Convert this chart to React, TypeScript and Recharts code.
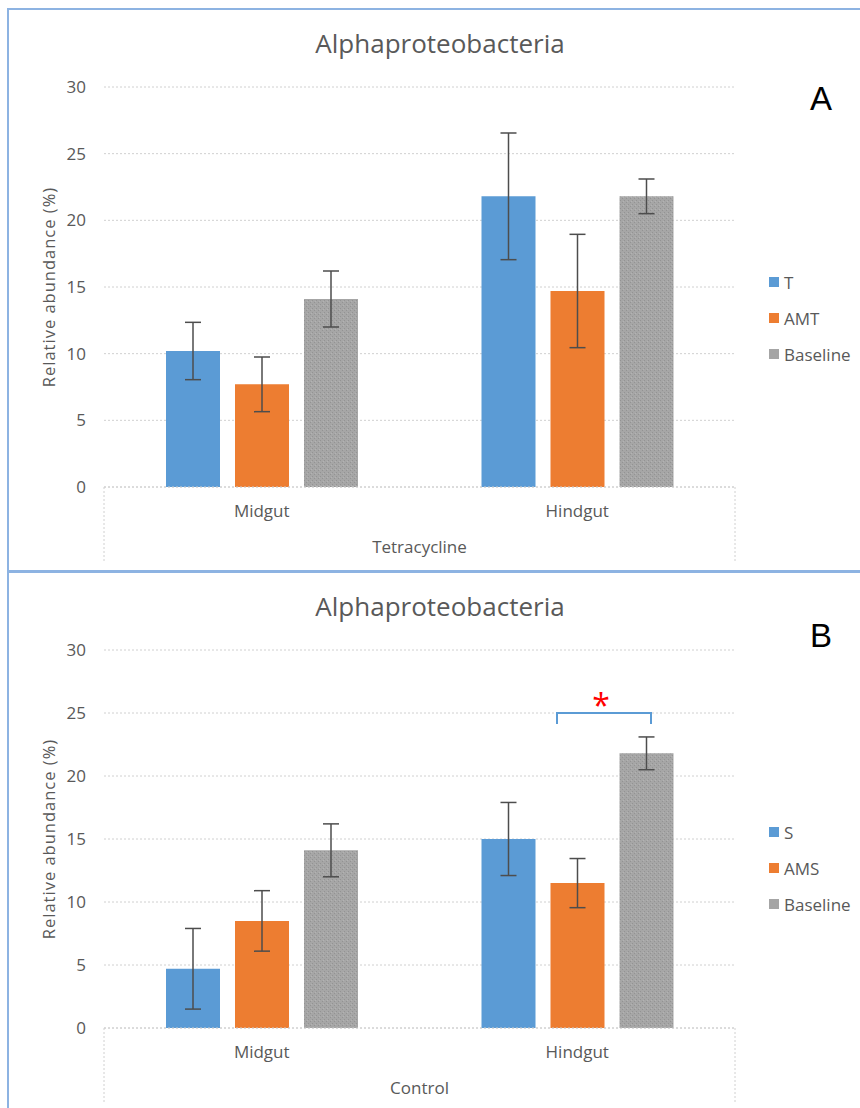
import { BarChart, Bar, XAxis, YAxis, CartesianGrid, ErrorBar, Legend } from "recharts";

// categories and axis ticks
const sites = ["Midgut", "Hindgut"];
const yTicks = [0, 5, 10, 15, 20, 25, 30];

// shared untreated baseline
const baselineMean = [14.1, 21.8];
const baselineErr = [2.1, 1.3];

// tetracycline panel
const tetNames = ["T", "AMT", "Baseline"];
const tetT = [10.2, 21.8];
const tetTErr = [2.15, 4.75];
const tetAMT = [7.7, 14.7];
const tetAMTErr = [2.05, 4.25];

// control panel
const ctlNames = ["S", "AMS", "Baseline"];
const ctlS = [4.7, 15.0];
const ctlSErr = [3.2, 2.9];
const ctlAMS = [8.5, 11.5];
const ctlAMSErr = [2.4, 1.95];

const COLORS = ["#5b9bd5", "#ed7d31", "#a5a5a5"];
const FONT = "'Open Sans', sans-serif";
const TEXT = "#595959";
const GRID = "#d0d0d0";

const CHART_W = 860;
const Y_AXIS_W = 104;
const MARGIN_RIGHT = 125;
const PLOT_W = CHART_W - Y_AXIS_W - MARGIN_RIGHT;
const TICK_SIZE = 6;
const TICK_MARGIN = 12;

const buildRows = (means: number[][], errs: number[][]) =>
  sites.map((site, i) => ({
    site,
    s0: means[0][i], e0: errs[0][i],
    s1: means[1][i], e1: errs[1][i],
    s2: means[2][i], e2: errs[2][i],
  }));

const tetRows = buildRows([tetT, tetAMT, baselineMean], [tetTErr, tetAMTErr, baselineErr]);
const ctlRows = buildRows([ctlS, ctlAMS, baselineMean], [ctlSErr, ctlAMSErr, baselineErr]);

// site label plus the dotted outer frame of the two-level category axis
const makeSiteTick = (axisH: number) => (props: any) => {
  const { x, y, payload, index } = props;
  const band = PLOT_W / sites.length;
  const top = y - TICK_SIZE - TICK_MARGIN;
  let edge: number | null = null;
  if (index === 0) edge = x - band / 2;
  if (index === sites.length - 1) edge = x + band / 2;
  return (
    <g>
      <text x={x} y={y} dy="0.71em" textAnchor="middle" fill={TEXT} fontSize={17} fontFamily={FONT}>
        {payload.value}
      </text>
      {edge !== null && (
        <line x1={edge} x2={edge} y1={top} y2={top + axisH} stroke={GRID} strokeDasharray="2 2" />
      )}
    </g>
  );
};

type PanelProps = {
  id: string;
  rows: any[];
  names: string[];
  group: string;
  height: number;
  top: number;
  bottom: number;
  axisH: number;
  groupOffset: number;
  legendTop: number;
};

function Panel({ id, rows, names, group, height, top, bottom, axisH, groupOffset, legendTop }: PanelProps) {
  const patternId = `speckle-${id}`;
  const fills = [COLORS[0], COLORS[1], `url(#${patternId})`];
  return (
    <BarChart
      width={CHART_W}
      height={height}
      data={rows}
      margin={{ top, right: MARGIN_RIGHT, bottom, left: 0 }}
      barSize={54}
      barGap={15}
    >
      <defs>
        <pattern id={patternId} width={4} height={4} patternUnits="userSpaceOnUse">
          <rect width={4} height={4} fill="#a6a6a6" />
          <rect x={0} y={0} width={1} height={1} fill="#939393" />
          <rect x={2} y={2} width={1} height={1} fill="#939393" />
          <rect x={3} y={1} width={1} height={1} fill="#b3b3b3" />
        </pattern>
      </defs>
      <CartesianGrid vertical={false} stroke={GRID} strokeDasharray="2 2" />
      <XAxis
        dataKey="site"
        height={axisH}
        axisLine={{ stroke: GRID, strokeDasharray: "2 2" }}
        tickLine={false}
        tickSize={TICK_SIZE}
        tickMargin={TICK_MARGIN}
        tick={makeSiteTick(axisH)}
        label={{
          value: group,
          position: "insideBottom",
          offset: groupOffset,
          fill: TEXT,
          fontSize: 17,
          fontFamily: FONT,
        }}
      />
      <YAxis
        width={Y_AXIS_W}
        domain={[0, 30]}
        ticks={yTicks}
        axisLine={false}
        tickLine={false}
        tickSize={TICK_SIZE}
        tickMargin={TICK_MARGIN}
        tick={{ fill: TEXT, fontSize: 17, fontFamily: FONT }}
        label={{
          value: "Relative abundance (%)",
          angle: -90,
          position: "insideLeft",
          offset: 49,
          fill: TEXT,
          fontSize: 16.5,
          fontFamily: FONT,
          letterSpacing: 1,
          style: { textAnchor: "middle" },
        }}
      />
      <Legend
        layout="vertical"
        align="center"
        verticalAlign="middle"
        wrapperStyle={{ left: 769, top: legendTop, width: 90 }}
        content={() => (
          <div style={{ fontFamily: FONT, fontSize: 17, color: TEXT }}>
            {names.map((n, i) => (
              <div key={n} style={{ height: 36, display: "flex", alignItems: "center" }}>
                <span style={{ width: 10, height: 10, background: COLORS[i], marginRight: 5, display: "inline-block" }} />
                <span>{n}</span>
              </div>
            ))}
          </div>
        )}
      />
      {names.map((n, i) => (
        <Bar key={n} dataKey={`s${i}`} name={n} fill={fills[i]} isAnimationActive={false}>
          <ErrorBar dataKey={`e${i}`} width={8} stroke="#4d4d4d" strokeWidth={1.5} />
        </Bar>
      ))}
    </BarChart>
  );
}

export default function App() {
  return (
    <div
      style={{
        position: "absolute",
        left: 0,
        top: 0,
        width: 860,
        height: 1108,
        overflow: "hidden",
        background: "#fff",
        fontFamily: FONT,
      }}
    >
      <div style={{ position: "absolute", left: 7, top: 8, width: 900, height: 564, border: "2px solid #8db3e2", boxSizing: "border-box" }} />
      <div style={{ position: "absolute", left: 7, top: 571, width: 900, height: 560, border: "2px solid #8db3e2", boxSizing: "border-box" }} />

      <div style={{ position: "absolute", left: 0, top: 0 }}>
        <Panel id="a" rows={tetRows} names={tetNames} group="Tetracycline" height={571} top={87} bottom={9} axisH={75} groupOffset={9} legendTop={264} />
      </div>
      <div style={{ position: "absolute", left: 0, top: 571 }}>
        <Panel id="b" rows={ctlRows} names={ctlNames} group="Control" height={537} top={79} bottom={4} axisH={76} groupOffset={10} legendTop={243} />
      </div>

      <svg width={860} height={1108} style={{ position: "absolute", left: 0, top: 0, pointerEvents: "none" }}>
        <text x={440} y={52.5} textAnchor="middle" fill={TEXT} fontSize={26} fontFamily={FONT}>Alphaproteobacteria</text>
        <text x={821} y={110} textAnchor="middle" fill="#000" fontSize={33} fontFamily="'Liberation Sans', Arial, sans-serif">A</text>
        <text x={440} y={615.5} textAnchor="middle" fill={TEXT} fontSize={26} fontFamily={FONT}>Alphaproteobacteria</text>
        <text x={821} y={647} textAnchor="middle" fill="#000" fontSize={33} fontFamily="'Liberation Sans', Arial, sans-serif">B</text>
        {/* significance bracket between AMS and baseline, hindgut */}
        <path d="M557 724 V713 H651 V724" fill="none" stroke="#5b9bd5" strokeWidth={2} />
        <text x={601} y={717} textAnchor="middle" fill="#ff0000" fontSize={32} fontFamily={FONT}>*</text>
      </svg>
    </div>
  );
}
